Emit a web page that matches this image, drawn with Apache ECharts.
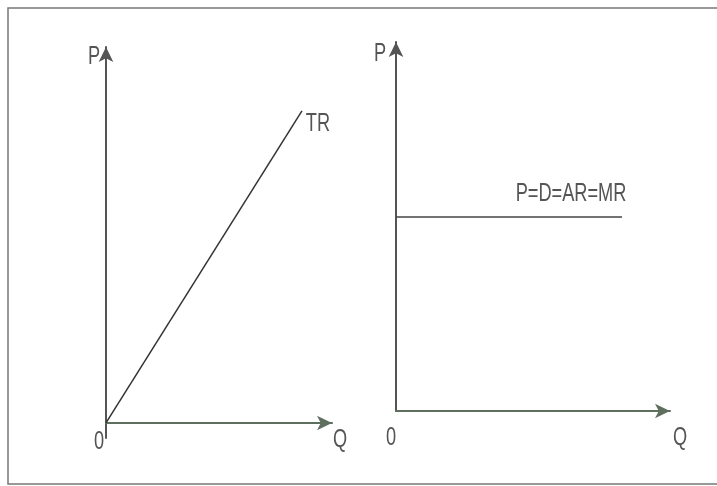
<!DOCTYPE html>
<html>
<head>
<meta charset="utf-8">
<script src="https://cdn.jsdelivr.net/npm/echarts@6/dist/echarts.min.js"></script>
<style>
  html, body { margin: 0; padding: 0; background: #fff; }
  #chart { width: 717px; height: 486px; }
</style>
</head>
<body>
<div id="chart"></div>
<script>
// total revenue line (left) and horizontal demand line (right), in 0..100 units
const trLine = [[0, 0], [86.7, 83]];
const demandLine = [[0, 52.6], [82.5, 52.6]];

// text marks: [x, y, text, dx, dy]
const leftLabels = [
    [0, 100, 'P', -12, 10],
    [0, 0, '0', -7, 19],
    [100, 0, 'Q', 8, 17],
    [86.7, 83, 'TR', 16, 13]
];
const rightLabels = [
    [0, 100, 'P', -16, 12],
    [0, 0, '0', -5, 27],
    [100, 0, 'Q', 10, 27],
    [82.5, 52.6, 'P=D=AR=MR', -51, -23]
];

const xAxisColor = '#5f6f5f';
const yAxisColor = '#555';

const chart = echarts.init(document.getElementById('chart'));

function axis(color, min, gridIndex) {
    return {
        type: 'value',
        gridIndex: gridIndex,
        min: min,
        max: 100,
        axisLine: {
            show: true,
            onZero: true,
            symbol: ['none', 'arrow'],
            symbolSize: [11, 15],
            lineStyle: { color: color, width: 2 }
        },
        axisTick: { show: false },
        axisLabel: { show: false },
        splitLine: { show: false }
    };
}

const option = {
    animation: false,
    backgroundColor: '#fff',
    grid: [
        { left: 106, top: 47, width: 226, bottom: 48 },
        { left: 396, top: 42, width: 274, bottom: 75 }
    ],
    xAxis: [axis(xAxisColor, 0, 0), axis(xAxisColor, 0, 1)],
    yAxis: [axis(yAxisColor, -4, 0), axis(yAxisColor, 0, 1)],
    series: [
        {
            type: 'line',
            xAxisIndex: 0,
            yAxisIndex: 0,
            data: trLine,
            showSymbol: false,
            lineStyle: { color: '#333', width: 1.5 }
        },
        {
            type: 'line',
            xAxisIndex: 1,
            yAxisIndex: 1,
            data: demandLine,
            showSymbol: false,
            lineStyle: { color: '#444', width: 1.5 }
        }
    ]
};

chart.setOption(option);

// condensed text labels, anchored through the axes
function textMarks(rows, idx) {
    return rows.map(r => {
        const p = chart.convertToPixel({ gridIndex: idx }, [r[0], r[1]]);
        return {
            type: 'text',
            x: p[0] + r[3],
            y: p[1] + r[4],
            scaleX: 0.7,
            silent: true,
            style: {
                text: r[2],
                fill: '#555',
                font: '26px "Liberation Sans", Arial, sans-serif',
                align: 'center',
                verticalAlign: 'middle'
            }
        };
    });
}

chart.setOption({
    graphic: [{
        type: 'rect',
        shape: { x: 8, y: 8, width: 730, height: 476 },
        style: { fill: 'none', stroke: '#777', lineWidth: 1.5 },
        z: 0
    }].concat(textMarks(leftLabels, 0), textMarks(rightLabels, 1))
});
</script>
</body>
</html>
